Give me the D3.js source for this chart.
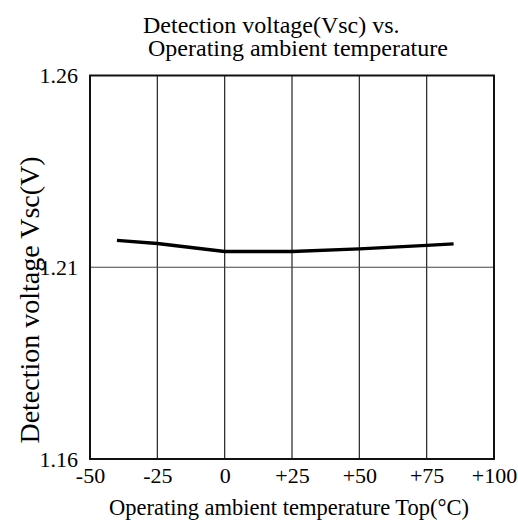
<!DOCTYPE html>
<html><head><meta charset="utf-8">
<script src="https://cdn.jsdelivr.net/npm/d3@7"></script>
<style>body{margin:0;background:#fff}svg{display:block}text{font-family:"Liberation Serif","Times New Roman",serif;fill:#000}</style>
</head><body>
<svg id="c" width="518" height="522"></svg>
<script>
const temps = [-40, -25, 0, 25, 50, 75, 85];
const vsc = [1.2170, 1.2162, 1.2141, 1.2141, 1.2148, 1.2157, 1.2161];
const xTicks = [-50, -25, 0, 25, 50, 75, 100];
const xTickLabels = ["-50", "-25", "0", "+25", "+50", "+75", "+100"];
const yTicks = [1.16, 1.21, 1.26];
const yTickLabels = ["1.16", "1.21", "1.26"];
const titleLines = ["Detection voltage(Vsc) vs.", "Operating ambient temperature"];
const xLabel = "Operating ambient temperature Top(\u00B0C)";
const yLabel = "Detection voltage Vsc(V)";

const svg = d3.select("#c");
const L = 90, R = 494, T = 75.5, B = 459;
const x = d3.scaleLinear().domain([-50, 100]).range([L, R]);
const y = d3.scaleLinear().domain([1.16, 1.26]).range([B, T]);

// grid
svg.append("g").selectAll("line").data(xTicks.slice(1, -1)).join("line")
  .attr("x1", d => x(d)).attr("x2", d => x(d)).attr("y1", T).attr("y2", B)
  .attr("stroke", "#222").attr("stroke-width", 1.2);
svg.append("g").selectAll("line").data(yTicks.slice(1, -1)).join("line")
  .attr("y1", d => y(d)).attr("y2", d => y(d)).attr("x1", L).attr("x2", R)
  .attr("stroke", "#444").attr("stroke-width", 1.2);
// frame
svg.append("rect").attr("x", L).attr("y", T).attr("width", R - L).attr("height", B - T)
  .attr("fill", "none").attr("stroke", "#111").attr("stroke-width", 2);

// axes (labels only, via d3 axes)
const xa = svg.append("g").attr("transform", `translate(0,${B})`)
  .call(d3.axisBottom(x).tickValues(xTicks).tickFormat((d, i) => xTickLabels[i]).tickSize(0).tickPadding(0));
xa.select(".domain").remove();
xa.selectAll("text").attr("font-size", 22).attr("y", 24).attr("dy", 0)
  .style("font-family", '"Liberation Serif",serif');
const ya = svg.append("g").attr("transform", `translate(${L},0)`)
  .call(d3.axisLeft(y).tickValues(yTicks).tickFormat((d, i) => yTickLabels[i]).tickSize(0).tickPadding(12));
ya.select(".domain").remove();
ya.selectAll("text").attr("font-size", 22).attr("dy", "0.34em")
  .style("font-family", '"Liberation Serif",serif');

// data line
svg.append("path").datum(temps.map((t, i) => [t, vsc[i]]))
  .attr("d", d3.line().x(d => x(d[0])).y(d => y(d[1])))
  .attr("fill", "none").attr("stroke", "#000").attr("stroke-width", 3.4)
  .attr("stroke-linejoin", "round");

// titles
svg.append("text").attr("x", 143).attr("y", 33).attr("font-size", 24).text(titleLines[0]);
svg.append("text").attr("x", 148).attr("y", 55.5).attr("font-size", 24).text(titleLines[1]);
svg.append("text").attr("x", 289).attr("y", 515).attr("text-anchor", "middle").attr("font-size", 22.5).text(xLabel);
svg.append("text").attr("transform", "translate(39,300) rotate(-90)").attr("text-anchor", "middle")
  .attr("font-size", 28).text(yLabel);
</script>
</body></html>
